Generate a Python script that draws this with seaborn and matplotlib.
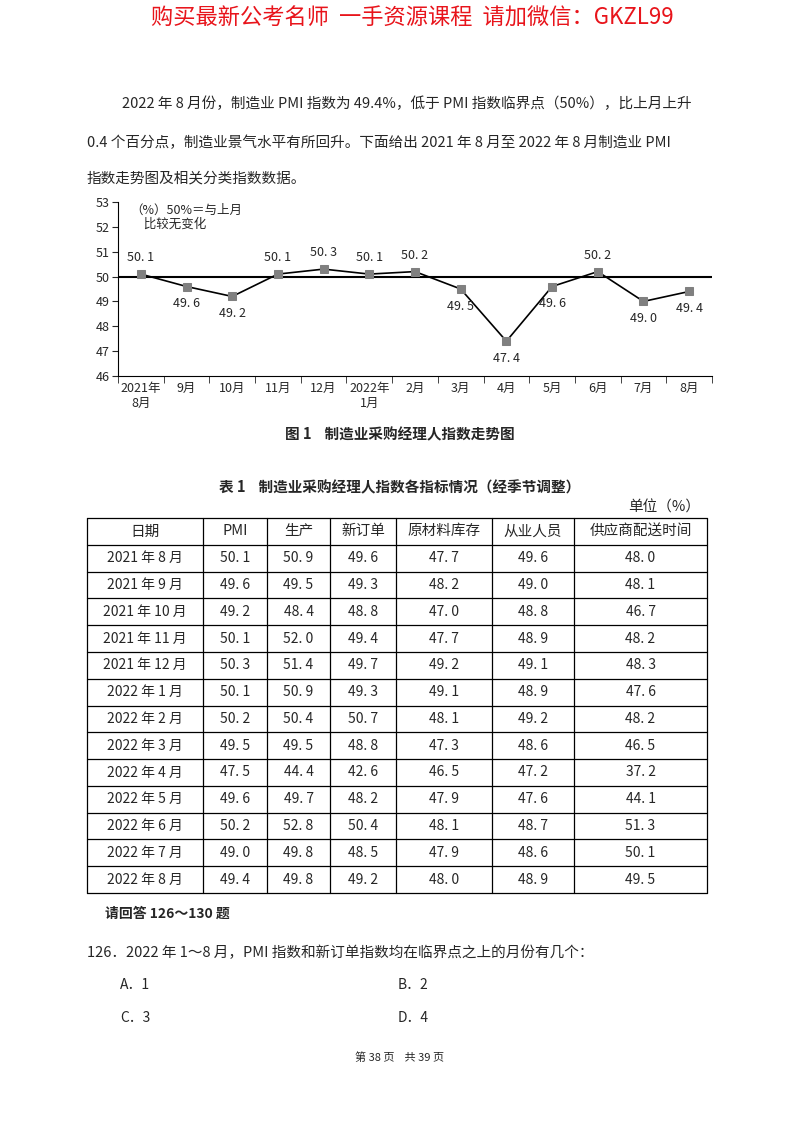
import matplotlib
matplotlib.use("Agg")
import matplotlib.pyplot as plt
import seaborn as sns
import pandas as pd
import numpy as np

sns.set_style("white")
plt.rcParams['font.family'] = ['Noto Sans CJK SC', 'DejaVu Sans']

# chart data
months = ["2021年\n8月", "9月", "10月", "11月", "12月", "2022年\n1月", "2月",
          "3月", "4月", "5月", "6月", "7月", "8月"]
pmi = [50.1, 49.6, 49.2, 50.1, 50.3, 50.1, 50.2, 49.5, 47.4, 49.6, 50.2, 49.0, 49.4]
label_above = [True, False, False, True, True, True, True, False, False, False, True, False, False]

# table data
col_names = ["日期", "PMI", "生产", "新订单", "原材料库存", "从业人员", "供应商配送时间"]
row_dates = ["2021 年 8 月", "2021 年 9 月", "2021 年 10 月", "2021 年 11 月", "2021 年 12 月",
             "2022 年 1 月", "2022 年 2 月", "2022 年 3 月", "2022 年 4 月", "2022 年 5 月",
             "2022 年 6 月", "2022 年 7 月", "2022 年 8 月"]
t_pmi = [50.1, 49.6, 49.2, 50.1, 50.3, 50.1, 50.2, 49.5, 47.5, 49.6, 50.2, 49.0, 49.4]
t_prod = [50.9, 49.5, 48.4, 52.0, 51.4, 50.9, 50.4, 49.5, 44.4, 49.7, 52.8, 49.8, 49.8]
t_order = [49.6, 49.3, 48.8, 49.4, 49.7, 49.3, 50.7, 48.8, 42.6, 48.2, 50.4, 48.5, 49.2]
t_stock = [47.7, 48.2, 47.0, 47.7, 49.2, 49.1, 48.1, 47.3, 46.5, 47.9, 48.1, 47.9, 48.0]
t_staff = [49.6, 49.0, 48.8, 48.9, 49.1, 48.9, 49.2, 48.6, 47.2, 47.6, 48.7, 48.6, 48.9]
t_deliv = [48.0, 48.1, 46.7, 48.2, 48.3, 47.6, 48.2, 46.5, 37.2, 44.1, 51.3, 50.1, 49.5]

W, H = 800, 1124
fig = plt.figure(figsize=(W / 100, H / 100), dpi=100)
page = fig.add_axes([0, 0, 1, 1])
page.set_xlim(0, W)
page.set_ylim(H, 0)
page.axis("off")

# header / text
page.text(412, 18, "购买最新公考名师  一手资源课程  请加微信：GKZL99", color="#e8141b",
          fontsize=16, ha="center", va="center")
para = ["2022 年 8 月份，制造业 PMI 指数为 49.4%，低于 PMI 指数临界点（50%），比上月上升",
        "0.4 个百分点，制造业景气水平有所回升。下面给出 2021 年 8 月至 2022 年 8 月制造业 PMI",
        "指数走势图及相关分类指数数据。"]
for x, y, line in zip([122, 87, 87], [104, 143, 178], para):
    page.text(x, y, line, fontsize=10.5, va="center")

# chart
ax = fig.add_axes([118 / W, 1 - 376 / H, 594 / W, 174 / H])
df = pd.DataFrame({"x": np.arange(len(pmi)), "pmi": pmi})
sns.lineplot(data=df, x="x", y="pmi", ax=ax, color="black", lw=1.2,
             marker="s", markersize=6, markerfacecolor="#808080", markeredgecolor="#808080")
ax.axhline(50, color="black", lw=1.5, zorder=1)
for i, v in enumerate(pmi):
    ax.text(i, v + (0.65 if label_above[i] else -0.7), f"{v:.1f}".replace(".", ". "),
            ha="center", va="center", fontsize=9)
ax.set_xlim(-0.5, 12.5)
ax.set_ylim(46, 53)
ax.set_yticks(range(46, 54))
ax.set_xticks(range(13))
ax.set_xticklabels(months, fontsize=9, va="top")
ax.set_xticks(np.arange(-0.5, 13, 1), minor=True)
ax.tick_params(axis="x", which="major", length=0, pad=4)
ax.tick_params(axis="x", which="minor", length=5, direction="out", bottom=True)
ax.tick_params(axis="y", length=4, direction="out", left=True, labelsize=9, pad=2)
ax.set_xlabel("")
ax.set_ylabel("")
for s in ["top", "right"]:
    ax.spines[s].set_visible(False)
for s in ["left", "bottom"]:
    ax.spines[s].set_color("black")
ax.text(0.02, 0.99, "（%）50%＝与上月\n     比较无变化", transform=ax.transAxes,
        fontsize=9, va="top", ha="left", linespacing=1.1)

page.text(400, 434, "图 1    制造业采购经理人指数走势图", fontsize=10.5, weight="bold",
          ha="center", va="center")
page.text(400, 487, "表 1    制造业采购经理人指数各指标情况（经季节调整）", fontsize=10.5,
          weight="bold", ha="center", va="center")
page.text(700, 508, "单位（%）", fontsize=10.5, ha="right", va="center")

# table
xs = [87, 203, 267, 330, 396, 492, 574, 707]
top, bot = 518, 893
n_rows = len(row_dates) + 1
rh = (bot - top) / n_rows
for xv in xs:
    page.plot([xv, xv], [top, bot], color="black", lw=0.9)
for r in range(n_rows + 1):
    page.plot([xs[0], xs[-1]], [top + r * rh, top + r * rh], color="black", lw=0.9)
cols = [t_pmi, t_prod, t_order, t_stock, t_staff, t_deliv]
for c, name in enumerate(col_names):
    page.text((xs[c] + xs[c + 1]) / 2, top + rh / 2, name, fontsize=10.5, ha="center", va="center")
for r, d in enumerate(row_dates):
    y = top + (r + 1.5) * rh
    page.text((xs[0] + xs[1]) / 2, y, d, fontsize=10, ha="center", va="center")
    for c, vals in enumerate(cols):
        page.text((xs[c + 1] + xs[c + 2]) / 2, y, f"{vals[r]:.1f}".replace(".", ". "),
                  fontsize=10, ha="center", va="center")

page.text(105, 914, "请回答 126～130 题", fontsize=10, weight="bold", va="center")
page.text(87, 953, "126．2022 年 1～8 月，PMI 指数和新订单指数均在临界点之上的月份有几个：",
          fontsize=10.5, va="center")
page.text(120, 985, "A．1", fontsize=10, va="center")
page.text(398, 985, "B．2", fontsize=10, va="center")
page.text(120, 1018, "C．3", fontsize=10, va="center")
page.text(398, 1018, "D．4", fontsize=10, va="center")
page.text(400, 1058, "第 38 页    共 39 页", fontsize=8, ha="center", va="center")

fig.savefig("out.png", dpi=100)
